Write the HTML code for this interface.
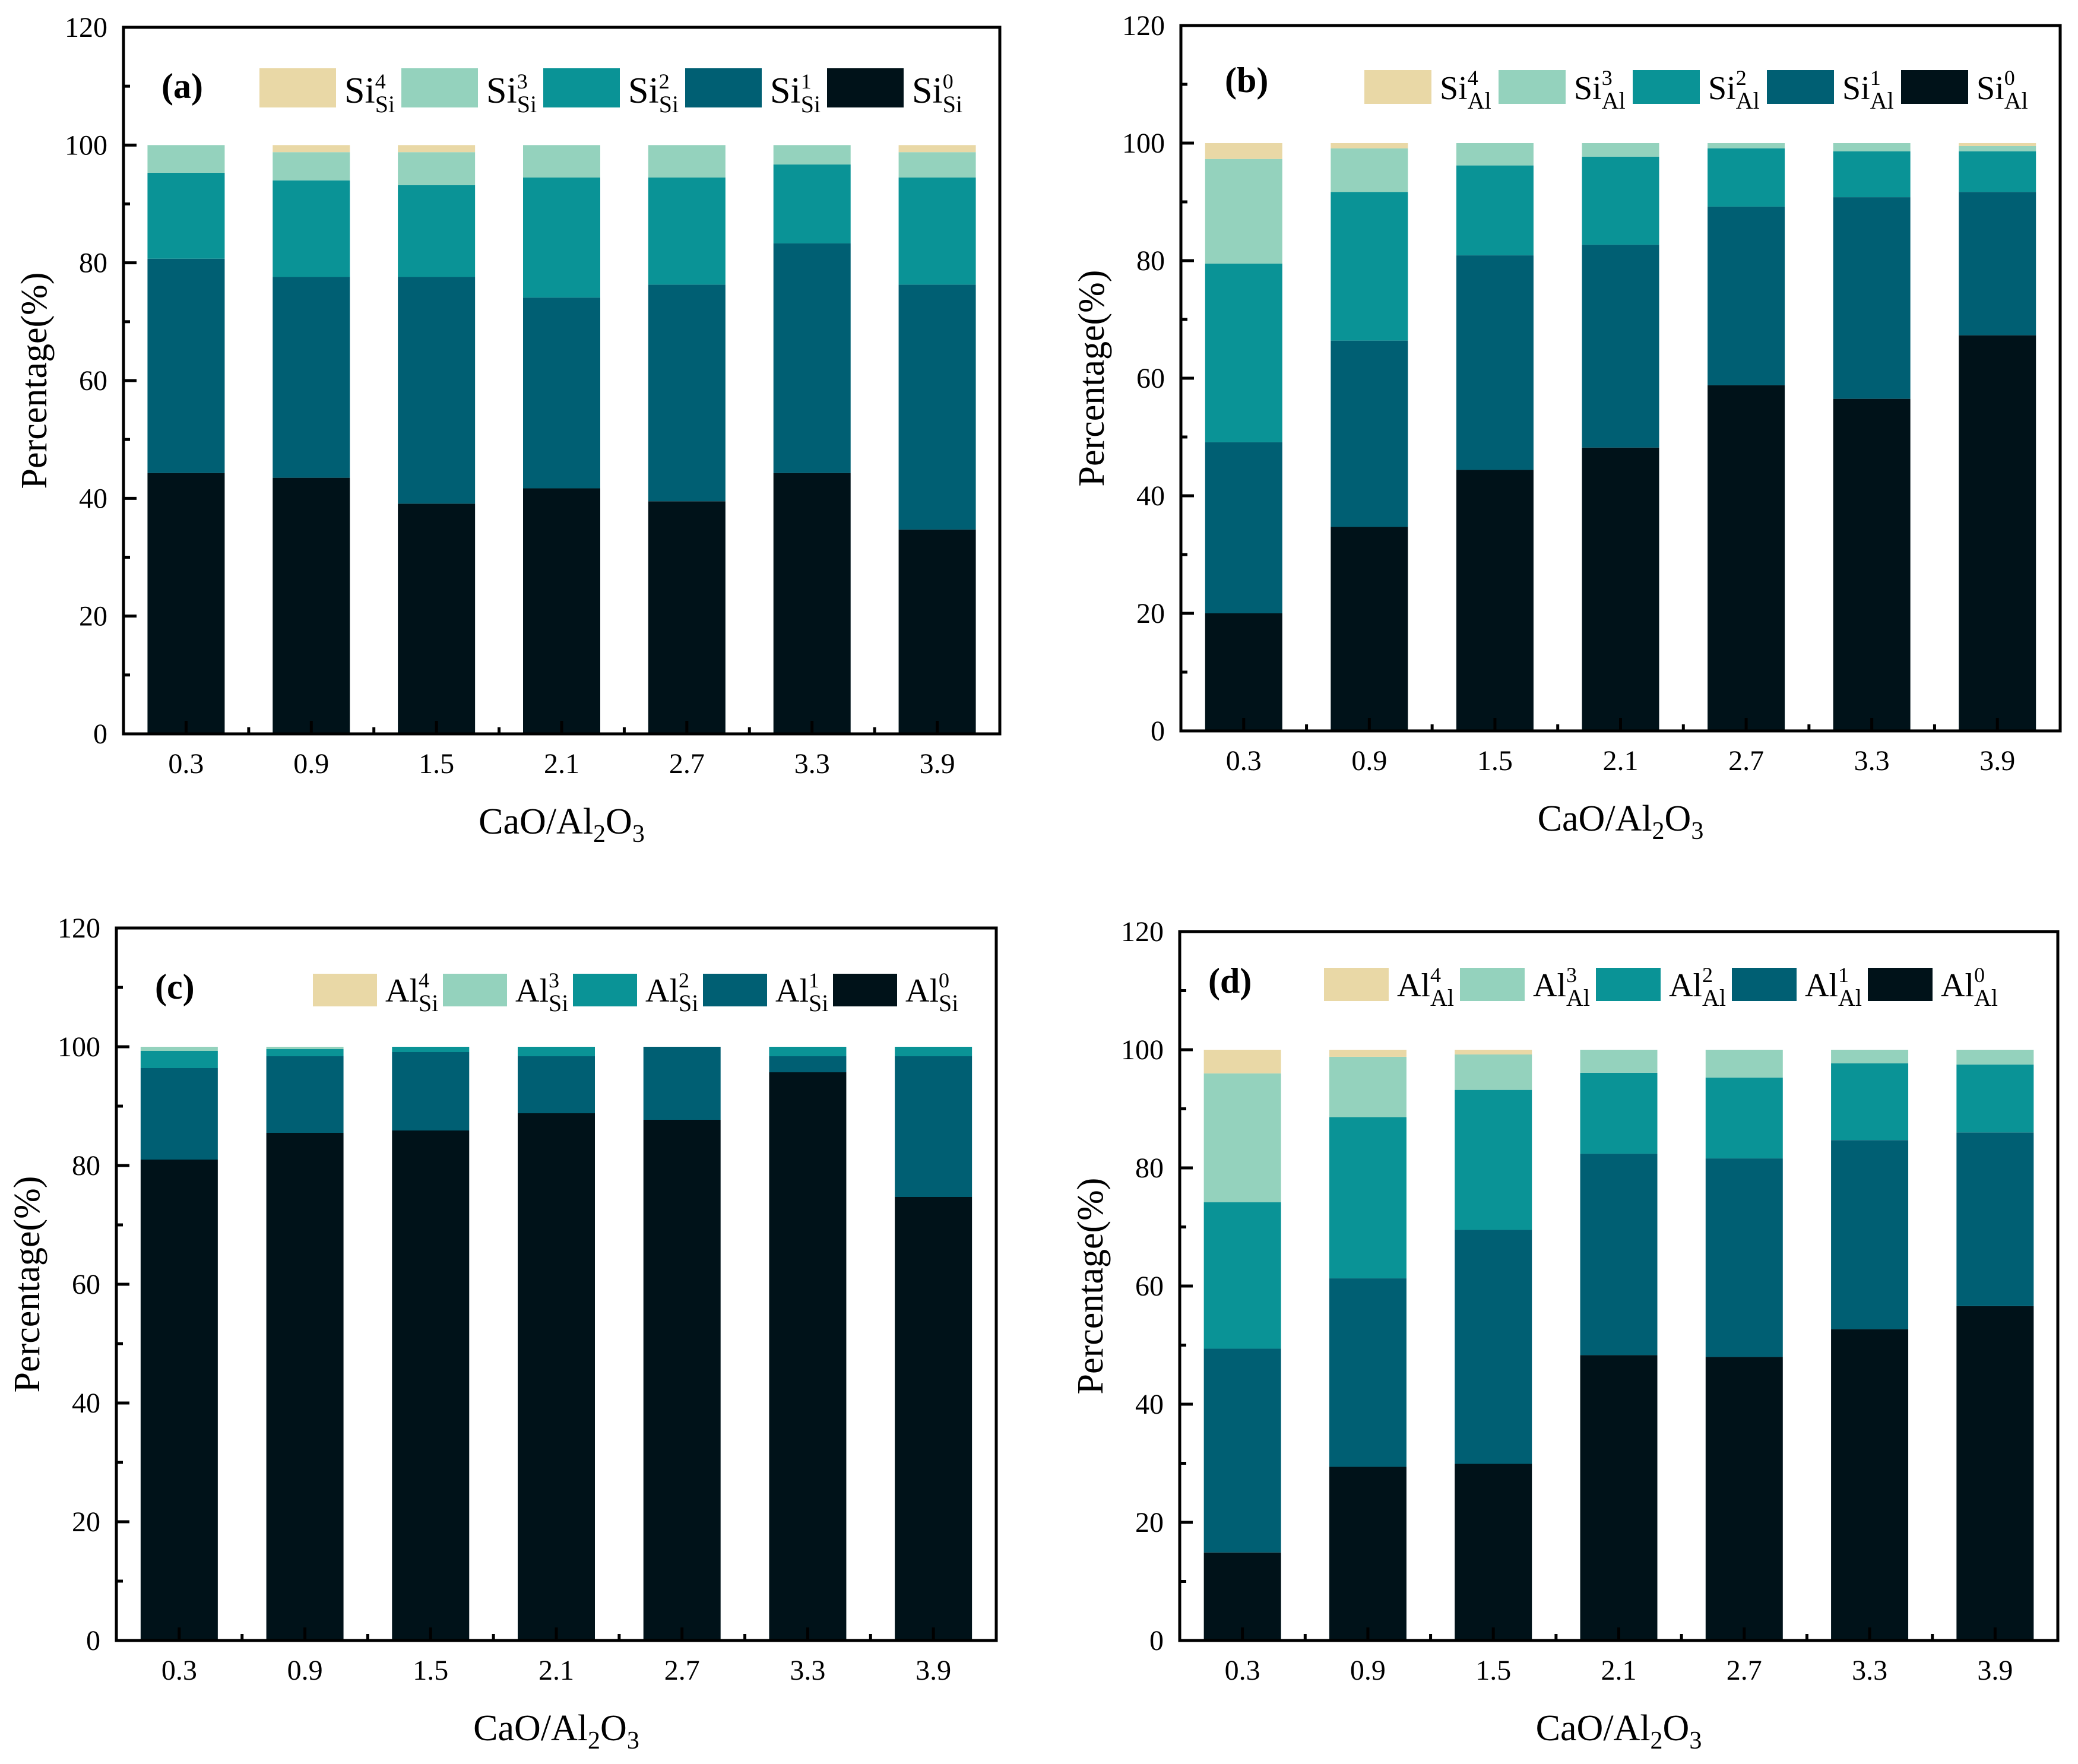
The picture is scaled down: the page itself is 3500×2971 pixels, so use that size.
<!DOCTYPE html>
<html><head><meta charset="utf-8"><title>Stacked bar charts</title>
<style>
html,body{margin:0;padding:0;background:#fff;}
svg{display:block;font-family:"Liberation Serif",serif;}
</style></head>
<body>
<svg id="fig" width="3500" height="2971" viewBox="0 0 3500 2971" xmlns="http://www.w3.org/2000/svg"></svg>
<script>
// shared categories and ticks
const categories = ["0.3","0.9","1.5","2.1","2.7","3.3","3.9"];
const yTickLabels = [0,20,40,60,80,100,120];
const seriesColors = ["#001219","#005F73","#0A9396","#94D2BD","#E9D8A6"];

// panel (a) Si_Si
const aS0 = [44.3,43.5,39.1,41.7,39.5,44.3,34.7];
const aS1 = [36.4,34.1,38.5,32.4,36.8,39.0,41.6];
const aS2 = [14.6,16.4,15.6,20.4,18.2,13.4,18.2];
const aS3 = [4.7,4.8,5.6,5.5,5.5,3.3,4.3];
const aS4 = [0,1.2,1.2,0,0,0,1.2];
// panel (b) Si_Al
const bS0 = [20.0,34.7,44.4,48.2,58.8,56.5,67.3];
const bS1 = [29.1,31.7,36.5,34.5,30.4,34.3,24.4];
const bS2 = [30.4,25.3,15.3,15.0,9.9,7.8,6.9];
const bS3 = [17.8,7.4,3.8,2.3,0.9,1.4,0.9];
const bS4 = [2.7,0.9,0,0,0,0,0.5];
// panel (c) Al_Si
const cS0 = [81.0,85.5,85.9,88.8,87.7,95.7,74.7];
const cS1 = [15.4,12.9,13.2,9.6,12.3,2.7,23.7];
const cS2 = [2.9,1.2,0.9,1.6,0,1.6,1.6];
const cS3 = [0.7,0.4,0,0,0,0,0];
const cS4 = [0,0,0,0,0,0,0];
// panel (d) Al_Al
const dS0 = [14.9,29.4,29.9,48.3,48.0,52.7,56.6];
const dS1 = [34.5,31.9,39.6,34.1,33.6,32.0,29.4];
const dS2 = [24.8,27.3,23.7,13.7,13.7,13.0,11.5];
const dS3 = [21.8,10.2,6.0,3.9,4.7,2.3,2.5];
const dS4 = [4.0,1.2,0.8,0,0,0,0];

const NS = "http://www.w3.org/2000/svg";
const svg = document.getElementById("fig");
function mk(tag, attrs, parent){
  const e = document.createElementNS(NS, tag);
  for (const k in attrs) e.setAttribute(k, attrs[k]);
  (parent||svg).appendChild(e);
  return e;
}

const panels = [
  {id:"a", L:208, R:1684, T:46, B:1236, series:[aS0,aS1,aS2,aS3,aS4], base:"Si", sub:"Si",
   lx:272, lb:165, legX:437, legY:115, legW:129, legH:66, legStep:239, legFs:62},
  {id:"b", L:1989, R:3470, T:43, B:1231, series:[bS0,bS1,bS2,bS3,bS4], base:"Si", sub:"Al",
   lx:2063, lb:155, legX:2298, legY:118, legW:113, legH:57, legStep:226, legFs:56},
  {id:"c", L:196, R:1678, T:1563, B:2763, series:[cS0,cS1,cS2,cS3,cS4], base:"Al", sub:"Si",
   lx:261, lb:1682, legX:527, legY:1640, legW:108, legH:55, legStep:219, legFs:56},
  {id:"d", L:1987, R:3466, T:1569, B:2763, series:[dS0,dS1,dS2,dS3,dS4], base:"Al", sub:"Al",
   lx:2035, lb:1672, legX:2230, legY:1630, legW:109, legH:56, legStep:229, legFs:56}
];

panels.forEach(p => {
  const g = mk("g", {});
  
  
  const band = (p.R - p.L) / categories.length;
  const barW = 130;
  const yScale = v => p.B - (v / 120) * (p.B - p.T);
  const xCenter = i => p.L + band * (i + 0.5);

  // bars
  categories.forEach((c, i) => {
    let cum = 0;
    p.series.forEach((s, k) => {
      const v = s[i];
      if (v <= 0) return;
      const y1 = yScale(cum + v), y0 = yScale(cum);
      const r = mk("rect", {x: xCenter(i) - barW/2, y: y1, width: barW, height: y0 - y1, fill: seriesColors[k]}, g);
      
      
      cum += v;
    });
  });

  // axes frame
  const frame = mk("rect", {x: p.L, y: p.T, width: p.R - p.L, height: p.B - p.T, fill: "none", stroke: "#000", "stroke-width": 5}, g);
  
  

  // y ticks
  for (let v = 0; v <= 120; v += 10) {
    const y = yScale(v);
    const major = v % 20 === 0;
    mk("line", {x1: p.L, x2: p.L + (major ? 22 : 11), y1: y, y2: y, stroke: "#000", "stroke-width": 5}, g);
  }
  yTickLabels.forEach(v => {
    const t = mk("text", {x: p.L - 27, y: yScale(v) + 16, "text-anchor": "end", "font-size": 48}, g);
    t.textContent = v;
    
    
  });

  // x ticks
  categories.forEach((c, i) => {
    const x = xCenter(i);
    mk("line", {x1: x, x2: x, y1: p.B, y2: p.B - 22, stroke: "#000", "stroke-width": 5}, g);
    if (i > 0) mk("line", {x1: p.L + band * i, x2: p.L + band * i, y1: p.B, y2: p.B - 11, stroke: "#000", "stroke-width": 5}, g);
    const t = mk("text", {x: x, y: p.B + 66, "text-anchor": "middle", "font-size": 48}, g);
    t.textContent = c;
    
    
  });

  // axis titles
  const xt = mk("text", {x: (p.L + p.R) / 2, y: p.B + 168, "text-anchor": "middle", "font-size": 62}, g);
  xt.innerHTML = 'CaO/Al<tspan font-size="42" dy="14">2</tspan><tspan dy="-14">O</tspan><tspan font-size="42" dy="14">3</tspan>';
  
  

  const cy = (p.T + p.B) / 2, cx = p.L - 144;
  const yt = mk("text", {x: cx, y: cy, "text-anchor": "middle", "dominant-baseline": "middle", "font-size": 62, transform: "rotate(-90 " + cx + " " + cy + ")"}, g);
  yt.textContent = "Percentage(%)";
  
  

  // panel label
  const pl = mk("text", {x: p.lx, y: p.lb, "font-size": 60, "font-weight": "bold"}, g);
  pl.textContent = "(" + p.id + ")";
  
  

  // legend (order 4,3,2,1,0)
  for (let j = 0; j < 5; j++) {
    const k = 4 - j;
    const lx = p.legX + j * p.legStep;
    const sw = mk("rect", {x: lx, y: p.legY, width: p.legW, height: p.legH, fill: seriesColors[k]}, g);
    
    
    const base = p.legY + p.legH - 8;
    const t = mk("text", {x: lx + p.legW + 14, y: base, "font-size": p.legFs}, g);
    t.innerHTML = p.base + '<tspan font-size="36" dy="-24">' + k + '</tspan><tspan font-size="40" dx="-18" dy="40">' + p.sub + '</tspan>';
    
    
  }
});
</script>
</body></html>
